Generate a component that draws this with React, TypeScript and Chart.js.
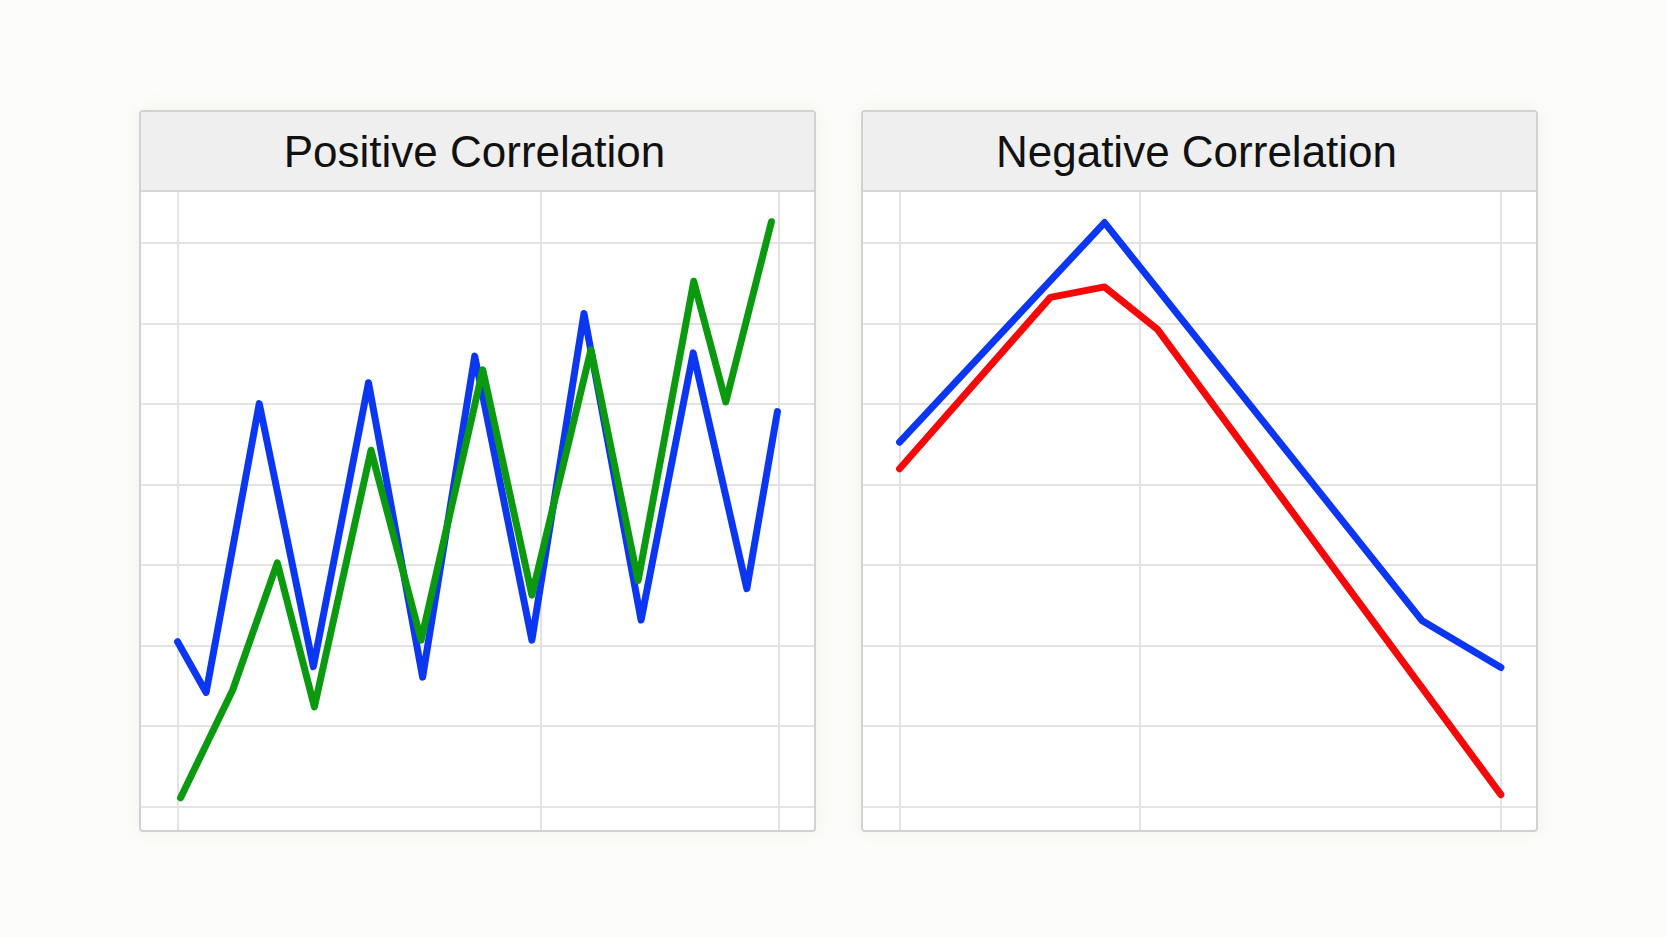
import React, { useEffect, useRef } from "react";
import { Chart, registerables } from "chart.js";

Chart.register(...registerables);

// ---- Data ----
const panelTitles = ["Positive Correlation", "Negative Correlation"];

// Positive correlation panel
const posBlueX = [0, 0.57, 1.63, 2.71, 3.81, 4.89, 5.93, 7.07, 8.11, 9.25, 10.29, 11.36, 11.97];
const posBlueY = [20.5, 14.2, 50.1, 17.4, 52.7, 16.1, 56.0, 20.7, 61.3, 23.2, 56.4, 27.1, 49.1];
const posGreenX = [0.06, 1.1, 1.99, 2.73, 3.86, 4.86, 6.09, 7.07, 8.25, 9.19, 10.3, 10.94, 11.85];
const posGreenY = [1.1, 14.5, 30.3, 12.4, 44.3, 20.7, 54.3, 26.3, 56.8, 28.1, 65.3, 50.3, 72.7];

// Negative correlation panel
const negBlueX = [0, 4.09, 10.43, 12];
const negBlueY = [45.3, 72.6, 23.1, 17.3];
const negRedX = [0, 3.01, 4.09, 5.15, 12];
const negRedY = [42.0, 63.3, 64.6, 59.3, 1.5];

// Axis tick values (grid lines)
const posXTicks = [0, 7.25, 12];
const negXTicks = [0, 4.79, 12];
const yTicks = [0, 10, 20, 30, 40, 50, 60, 70];

const BLUE = "#0b36f2";
const GREEN = "#0a990f";
const RED = "#f50808";

type Series = { xs: number[]; ys: number[]; color: string; order: number };

function toPoints(xs: number[], ys: number[]) {
  return xs.map((x, i) => ({ x, y: ys[i] }));
}

function LinePanel({ series, xTicks }: { series: Series[]; xTicks: number[] }) {
  const ref = useRef<HTMLCanvasElement | null>(null);
  useEffect(() => {
    if (!ref.current) return;
    const chart = new Chart(ref.current, {
      type: "scatter",
      data: {
        datasets: series.map((s) => ({
          data: toPoints(s.xs, s.ys),
          showLine: true,
          order: s.order,
          borderColor: s.color,
          backgroundColor: s.color,
          borderWidth: 7,
          pointRadius: 0,
          pointHoverRadius: 0,
          borderCapStyle: "round",
          borderJoinStyle: "round",
          tension: 0,
        })),
      },
      options: {
        animation: false,
        responsive: false,
        maintainAspectRatio: false,
        layout: { padding: 0 },
        plugins: { legend: { display: false }, tooltip: { enabled: false } },
        events: [],
        scales: {
          x: {
            type: "linear",
            min: -0.73,
            max: 12.7,
            ticks: { display: false },
            border: { display: false },
            grid: { color: "#e3e3e3", lineWidth: 2, drawTicks: false },
            afterBuildTicks: (scale: any) => {
              scale.ticks = xTicks.map((v) => ({ value: v }));
            },
          },
          y: {
            type: "linear",
            min: -2.9,
            max: 76.4,
            ticks: { display: false },
            border: { display: false },
            grid: { color: "#e3e3e3", lineWidth: 2, drawTicks: false },
            afterBuildTicks: (scale: any) => {
              scale.ticks = yTicks.map((v) => ({ value: v }));
            },
          },
        },
      },
    } as any);
    return () => chart.destroy();
  }, []);
  return <canvas ref={ref} width={673} height={638} style={{ display: "block" }} />;
}

function Panel({ left, title, children }: { left: number; title: string; children: React.ReactNode }) {
  return (
    <div
      style={{
        position: "absolute",
        left,
        top: 110,
        width: 677,
        height: 722,
        boxSizing: "border-box",
        border: "2px solid #d2d2d2",
        borderRadius: 4,
        background: "#ffffff",
        overflow: "hidden",
        boxShadow: "0 0 18px rgba(235,235,225,0.6)",
      }}
    >
      <div
        style={{
          height: 78,
          borderBottom: "2px solid #d6d6d6",
          background: "#efefef",
          display: "flex",
          alignItems: "center",
          justifyContent: "center",
          fontFamily: "'Liberation Sans', Arial, sans-serif",
          fontSize: 44,
          color: "#111111",
        }}
      >
        <span style={{ marginRight: 6, marginTop: 2 }}>{title}</span>
      </div>
      {children}
    </div>
  );
}

export default function App() {
  return (
    <div
      style={{
        position: "fixed",
        left: 0,
        top: 0,
        width: 1666,
        height: 937,
        background: "#fcfcfa",
        overflow: "hidden",
      }}
    >
      <Panel left={139} title={panelTitles[0]}>
        <LinePanel
          xTicks={posXTicks}
          series={[
            { xs: posBlueX, ys: posBlueY, color: BLUE, order: 2 },
            { xs: posGreenX, ys: posGreenY, color: GREEN, order: 1 },
          ]}
        />
      </Panel>
      <Panel left={861} title={panelTitles[1]}>
        <LinePanel
          xTicks={negXTicks}
          series={[
            { xs: negBlueX, ys: negBlueY, color: BLUE, order: 2 },
            { xs: negRedX, ys: negRedY, color: RED, order: 1 },
          ]}
        />
      </Panel>
    </div>
  );
}
